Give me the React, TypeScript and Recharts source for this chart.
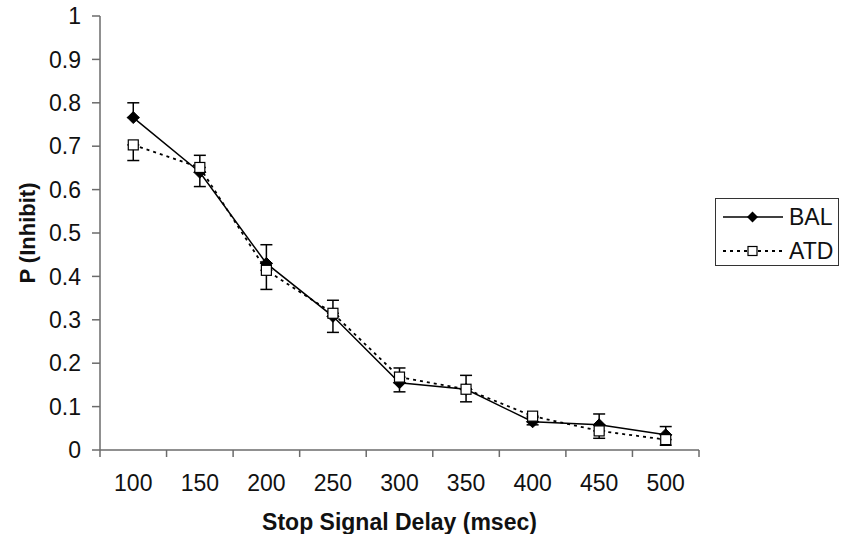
import { LineChart, Line, XAxis, YAxis, ErrorBar, Label } from 'recharts';

const DELAYS = [100, 150, 200, 250, 300, 350, 400, 450, 500];
const BAL = [0.766, 0.64, 0.43, 0.308, 0.155, 0.14, 0.065, 0.058, 0.035];
// BAL only shows the upper error bar, ATD only the lower one
const BAL_ERR_UP = [0.034, 0.039, 0.043, 0.037, 0.034, 0.032, 0.01, 0.025, 0.019];
const ATD = [0.703, 0.651, 0.414, 0.315, 0.168, 0.14, 0.078, 0.044, 0.024];
const ATD_ERR_DOWN = [0.036, 0.044, 0.044, 0.044, 0.034, 0.029, 0.02, 0.017, 0.013];
const Y_TICKS = [0, 0.1, 0.2, 0.3, 0.4, 0.5, 0.6, 0.7, 0.8, 0.9, 1];

const W = 843;
const H = 534;
const MARGIN = { top: 16, right: 144, left: 0, bottom: 0 };
const Y_AXIS_W = 100;
const X_AXIS_H = 84;
const PLOT_W = W - MARGIN.left - MARGIN.right - Y_AXIS_W;
const STEP = PLOT_W / DELAYS.length;
const FONT = '"Liberation Sans", Arial, sans-serif';
const AXIS_COLOR = '#6b6b6b';

const data = DELAYS.map((d, i) => ({
  delay: d,
  bal: BAL[i],
  balErr: [0, BAL_ERR_UP[i]],
  atd: ATD[i],
  atdErr: [ATD_ERR_DOWN[i], 0],
}));

const Diamond = ({ cx, cy }: any) => {
  if (cx == null || cy == null) return null;
  const r = 6;
  return (
    <polygon
      points={`${cx},${cy - r} ${cx + r},${cy} ${cx},${cy + r} ${cx - r},${cy}`}
      fill="#000"
      stroke="#000"
    />
  );
};

const Square = ({ cx, cy }: any) => {
  if (cx == null || cy == null) return null;
  const s = 10;
  return <rect x={cx - s / 2} y={cy - s / 2} width={s} height={s} fill="#fff" stroke="#000" strokeWidth={1.2} />;
};

const XTick = ({ x, y, payload, index }: any) => {
  const last = index === DELAYS.length - 1;
  return (
    <g>
      <line x1={x - STEP / 2} y1={y} x2={x - STEP / 2} y2={y + 7} stroke={AXIS_COLOR} strokeWidth={1.5} />
      {last && <line x1={x + STEP / 2} y1={y} x2={x + STEP / 2} y2={y + 7} stroke={AXIS_COLOR} strokeWidth={1.5} />}
      <text x={x} y={y + 41} textAnchor="middle" fontSize={23} fontFamily={FONT} fill="#111">
        {payload.value}
      </text>
    </g>
  );
};

const YTitle = ({ viewBox }: any) => {
  const cx = viewBox.x + 27;
  const cy = viewBox.y + viewBox.height / 2;
  return (
    <text
      x={cx}
      y={cy}
      transform={`rotate(-90 ${cx} ${cy})`}
      textAnchor="middle"
      dominantBaseline="central"
      fontSize={22}
      fontWeight="bold"
      fontFamily={FONT}
      fill="#111"
    >
      P (Inhibit)
    </text>
  );
};

const LegendRow = ({ label, dashed }: { label: string; dashed: boolean }) => (
  <div style={{ display: 'flex', alignItems: 'center', height: 34 }}>
    <svg width={62} height={14} style={{ marginLeft: 7 }}>
      <line
        x1={0}
        y1={7}
        x2={60}
        y2={7}
        stroke="#000"
        strokeWidth={dashed ? 1.8 : 1.5}
        strokeDasharray={dashed ? '3 4' : undefined}
      />
      {dashed ? (
        <rect x={25} y={2.5} width={9} height={9} fill="#fff" stroke="#000" strokeWidth={1.2} />
      ) : (
        <polygon points="29.5,1.5 35,7 29.5,12.5 24,7" fill="#000" />
      )}
    </svg>
    <span style={{ marginLeft: 4, fontSize: 23, fontFamily: FONT, color: '#111' }}>{label}</span>
  </div>
);

export default function App() {
  return (
    <div style={{ position: 'absolute', left: 0, top: 0, width: W, height: H, background: '#fff' }}>
      <LineChart width={W} height={H} data={data} margin={MARGIN}>
        <XAxis
          dataKey="delay"
          type="number"
          domain={[75, 525]}
          ticks={DELAYS}
          height={X_AXIS_H}
          axisLine={{ stroke: AXIS_COLOR, strokeWidth: 1.5 }}
          tickLine={false}
          tickSize={0}
          tickMargin={0}
          tick={<XTick />}
          interval={0}
        >
          <Label
            value="Stop Signal Delay (msec)"
            position="insideBottom"
            offset={4}
            style={{ fontSize: 23, fontWeight: 'bold', fontFamily: FONT, fill: '#111' }}
          />
        </XAxis>
        <YAxis
          domain={[0, 1]}
          ticks={Y_TICKS}
          width={Y_AXIS_W}
          interval={0}
          axisLine={{ stroke: AXIS_COLOR, strokeWidth: 1.5 }}
          tickLine={{ stroke: AXIS_COLOR, strokeWidth: 1.5 }}
          tickSize={8}
          tickMargin={11}
          tick={{ fontSize: 23, fontFamily: FONT, fill: '#111' }}
          label={<YTitle />}
        />
        <Line
          dataKey="bal"
          stroke="#000"
          strokeWidth={1.5}
          dot={<Diamond />}
          activeDot={false}
          isAnimationActive={false}
        >
          <ErrorBar dataKey="balErr" width={6} stroke="#000" strokeWidth={1.5} direction="y" isAnimationActive={false} />
        </Line>
        <Line
          dataKey="atd"
          stroke="#000"
          strokeWidth={1.8}
          strokeDasharray="3 4"
          dot={<Square />}
          activeDot={false}
          isAnimationActive={false}
        >
          <ErrorBar dataKey="atdErr" width={6} stroke="#000" strokeWidth={1.5} direction="y" isAnimationActive={false} />
        </Line>
      </LineChart>
      <div
        style={{
          position: 'absolute',
          left: 715,
          top: 198,
          width: 124,
          height: 68,
          border: '1px solid #333',
          boxSizing: 'border-box',
          paddingTop: 1,
        }}
      >
        <LegendRow label="BAL" dashed={false} />
        <LegendRow label="ATD" dashed={true} />
      </div>
    </div>
  );
}
